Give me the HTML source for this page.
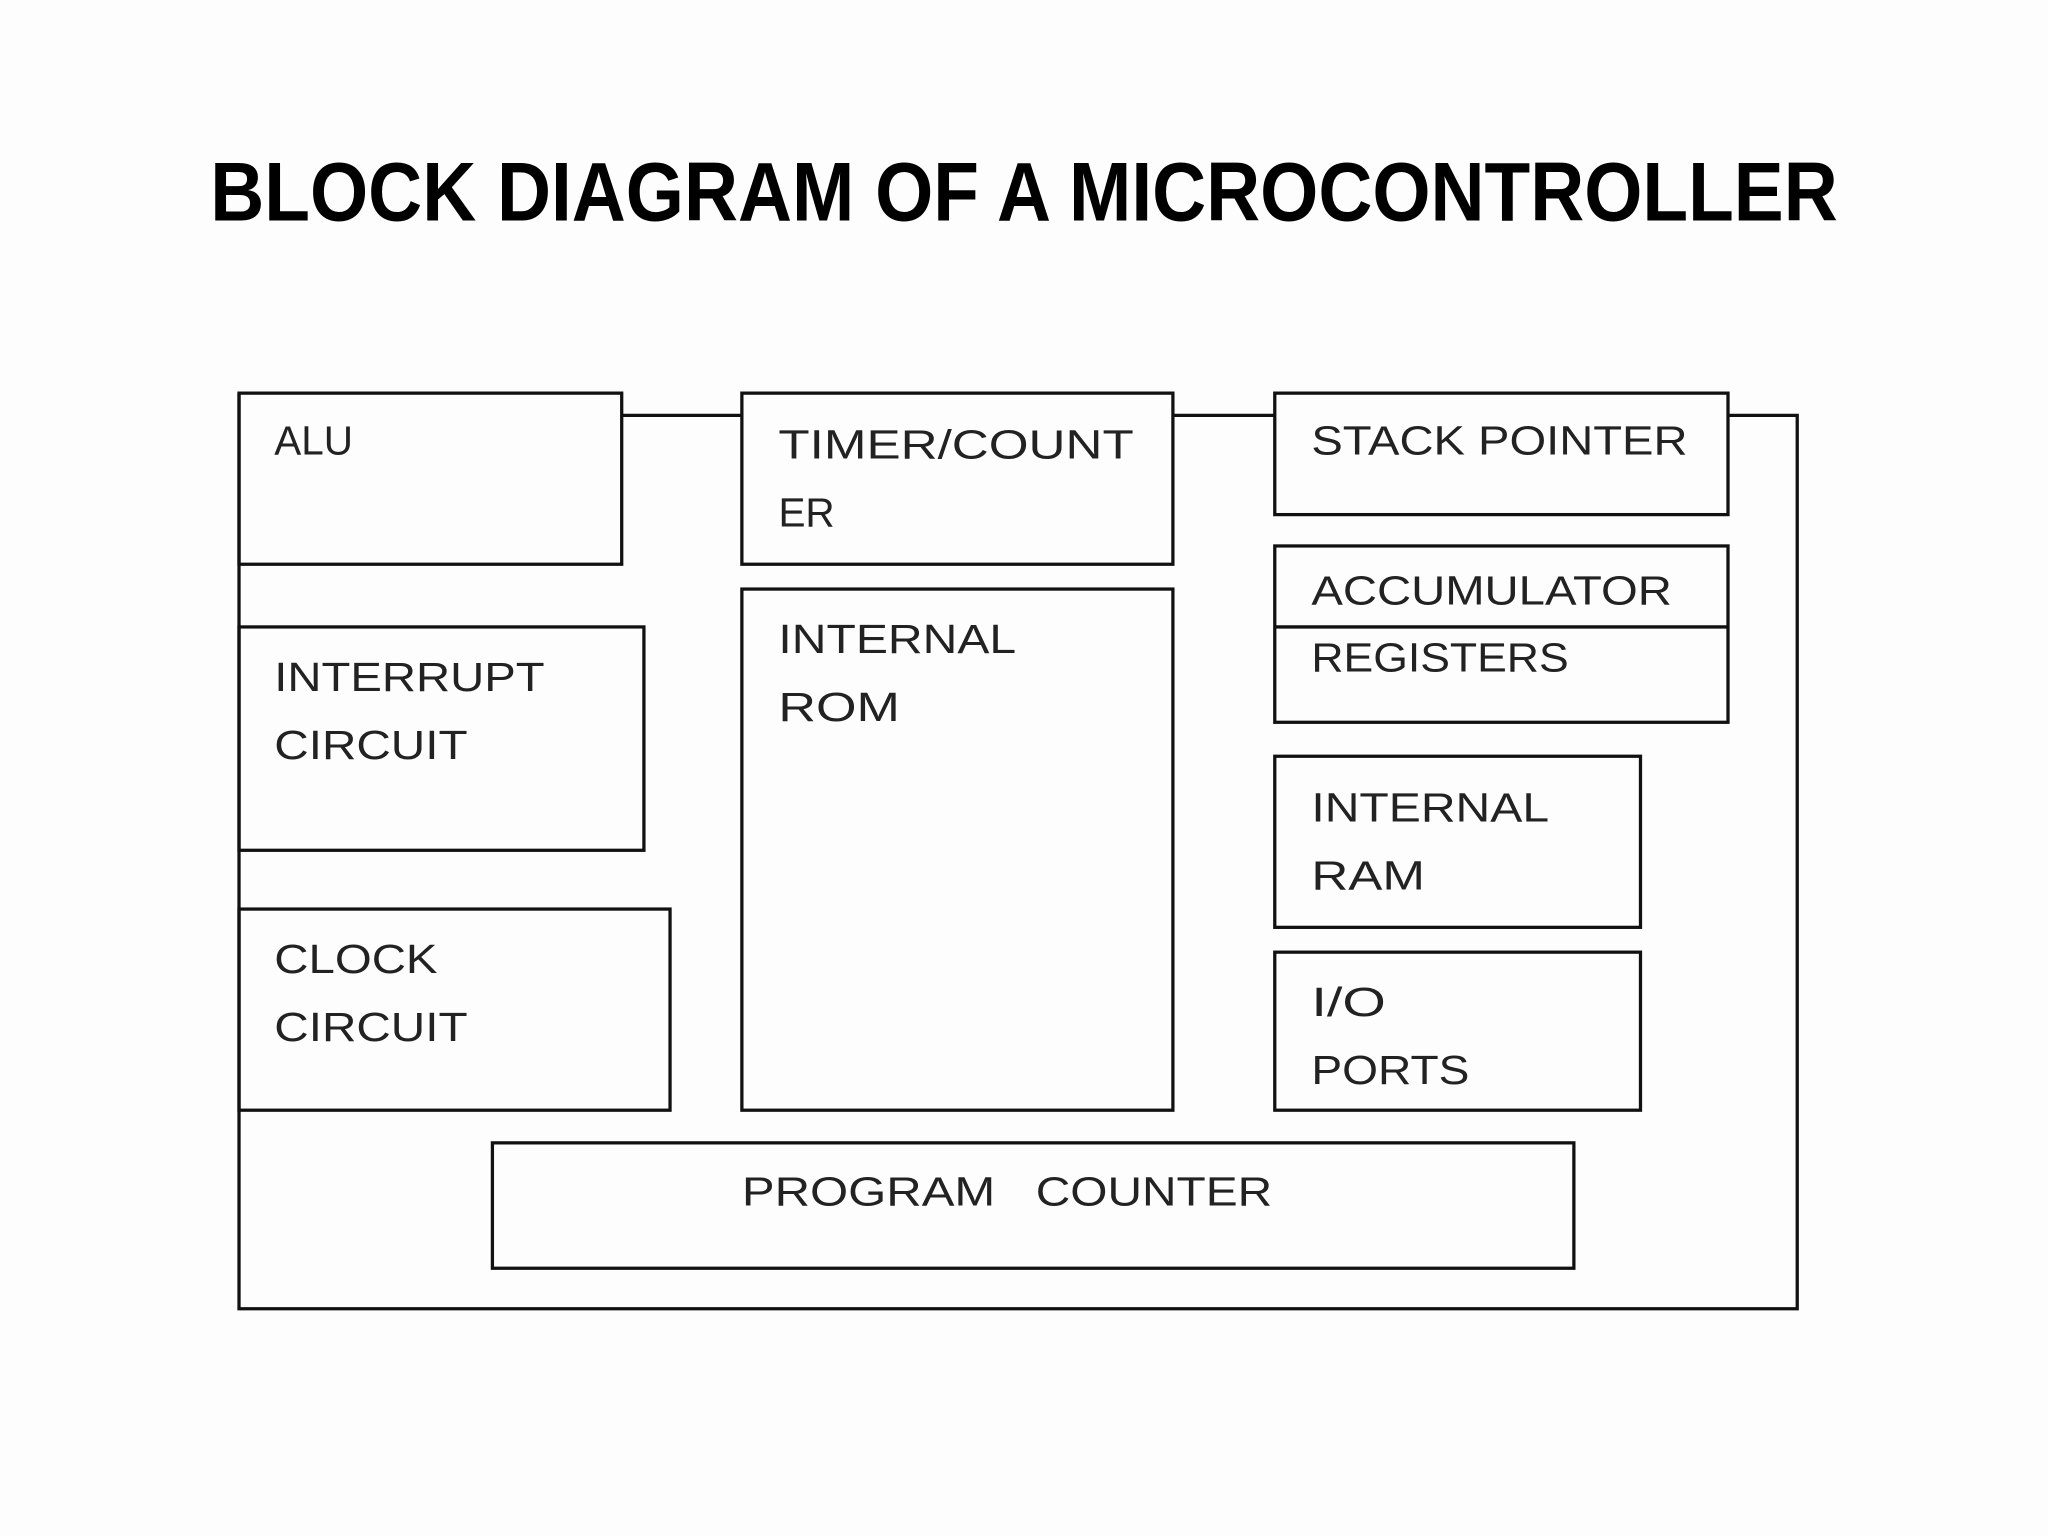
<!DOCTYPE html>
<html><head><meta charset="utf-8"><style>
html,body{margin:0;padding:0;background:#fdfdfd;}
svg{display:block;}
</style></head><body>
<svg width="2048" height="1536" viewBox="0 0 1568 1176" xmlns="http://www.w3.org/2000/svg">
<rect width="1568" height="1176" fill="#fdfdfd"/>
<text x="161" y="169" font-family="Liberation Sans, sans-serif" font-weight="bold" font-size="64" textLength="1246" lengthAdjust="spacingAndGlyphs" fill="#000">BLOCK DIAGRAM OF A MICROCONTROLLER</text>
<g fill="none" stroke="#111" stroke-width="2.5">
<polyline points="476,318 568,318"/>
<polyline points="898,318 976,318"/>
<polyline points="1323,318 1376,318 1376,1002 183,1002 183,301"/>
<rect x="183" y="301" width="293" height="131"/>
<rect x="568" y="301" width="330" height="131"/>
<rect x="976" y="301" width="347" height="93"/>
<rect x="976" y="418" width="347" height="135"/>
<line x1="976" y1="480" x2="1323" y2="480"/>
<rect x="183" y="480" width="310" height="171"/>
<rect x="568" y="451" width="330" height="399"/>
<rect x="976" y="579" width="280" height="131"/>
<rect x="976" y="729" width="280" height="121"/>
<rect x="183" y="696" width="330" height="154"/>
<rect x="377" y="875" width="828" height="96"/>
</g>
<g font-family="Liberation Sans, sans-serif" font-size="31" fill="#222">
<text x="210" y="348">ALU</text>
<text x="596" y="351" textLength="272" lengthAdjust="spacingAndGlyphs">TIMER/COUNT</text>
<text x="596" y="403">ER</text>
<text x="1004" y="348" textLength="288" lengthAdjust="spacingAndGlyphs">STACK POINTER</text>
<text x="1004" y="463" textLength="276" lengthAdjust="spacingAndGlyphs">ACCUMULATOR</text>
<text x="1004" y="514" textLength="197" lengthAdjust="spacingAndGlyphs">REGISTERS</text>
<text x="210" y="529" textLength="207" lengthAdjust="spacingAndGlyphs">INTERRUPT</text>
<text x="210" y="581" textLength="148" lengthAdjust="spacingAndGlyphs">CIRCUIT</text>
<text x="596" y="500" textLength="182" lengthAdjust="spacingAndGlyphs">INTERNAL</text>
<text x="596" y="552" textLength="93" lengthAdjust="spacingAndGlyphs">ROM</text>
<text x="1004" y="629" textLength="182" lengthAdjust="spacingAndGlyphs">INTERNAL</text>
<text x="1004" y="681" textLength="87" lengthAdjust="spacingAndGlyphs">RAM</text>
<text x="1004" y="778" textLength="57" lengthAdjust="spacingAndGlyphs">I/O</text>
<text x="1004" y="830" textLength="121" lengthAdjust="spacingAndGlyphs">PORTS</text>
<text x="210" y="745" textLength="125" lengthAdjust="spacingAndGlyphs">CLOCK</text>
<text x="210" y="797" textLength="148" lengthAdjust="spacingAndGlyphs">CIRCUIT</text>
<text x="568" y="923" textLength="194" lengthAdjust="spacingAndGlyphs">PROGRAM</text>
<text x="793" y="923" textLength="181" lengthAdjust="spacingAndGlyphs">COUNTER</text>
</g>
</svg>
</body></html>
